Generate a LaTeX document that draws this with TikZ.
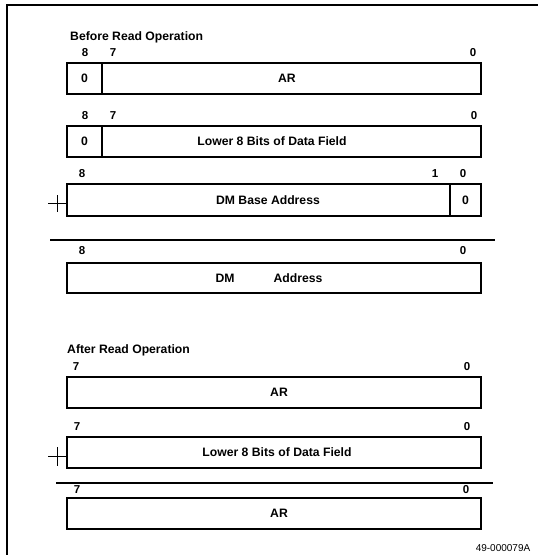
\documentclass[tikz,border=0pt]{standalone}
\usepackage{fontspec}
\setmainfont{Liberation Sans}
\begin{document}
\begin{tikzpicture}[x=1pt,y=-1pt,
  cell/.style={draw, line width=1.2pt, inner sep=0pt, outer sep=0pt, rectangle},
  txt/.style={inner sep=0pt, font=\fontsize{12.2}{14}\selectfont\bfseries},
  bitnum/.style={inner sep=0pt, font=\fontsize{11.5}{13}\selectfont\bfseries},
  rule/.style={line width=1.1pt},
  cross/.style={line width=0.6pt}]
\useasboundingbox (0,0) rectangle (538,555);
% frame
\coordinate (fb) at (7,555);
\coordinate (fc) at (7,5);
\coordinate (fr) at (538,5);
\draw[line width=1.2pt] (fb) -- (fc) -- (fr);

% ---------- Before ----------
\node[txt, anchor=west] (title1) at (70,37) {Before Read Operation};

% box 1
\node[cell, minimum width=35pt, minimum height=31pt] (b1a) at (84.5,78.5) {};
\node[cell, minimum width=379pt, minimum height=31pt] (b1b) at (291.5,78.5) {};
\node[txt] (t1a) at (b1a) {0};
\node[txt] (t1b) at (287,78.5) {AR};
\node[bitnum] (n1a) at (85,53) {8};
\node[bitnum] (n1b) at (113,53) {7};
\node[bitnum] (n1c) at (473,53) {0};

% box 2
\node[cell, minimum width=35pt, minimum height=31pt] (b2a) at (84.5,141.5) {};
\node[cell, minimum width=379pt, minimum height=31pt] (b2b) at (291.5,141.5) {};
\node[txt] (t2a) at (b2a) {0};
\node[txt] (t2b) at (272,141.5) {Lower 8 Bits of Data Field};
\node[bitnum] (n2a) at (85,116) {8};
\node[bitnum] (n2b) at (113,116) {7};
\node[bitnum] (n2c) at (474,116) {0};

% box 3
\node[cell, minimum width=383pt, minimum height=32pt] (b3a) at (258.5,200) {};
\node[cell, minimum width=31pt, minimum height=32pt] (b3b) at (465.5,200) {};
\node[txt] (t3a) at (268,200) {DM Base Address};
\node[txt] (t3b) at (b3b) {0};
\node[bitnum] (n3a) at (82,174) {8};
\node[bitnum] (n3b) at (435,174) {1};
\node[bitnum] (n3c) at (463,174) {0};
\coordinate (p1l) at (48,203);
\coordinate (p1t) at (57,195);
\coordinate (p1b) at (57,212);
\draw[cross] (p1l) -- (b3a.west |- p1l);
\draw[cross] (p1t) -- (p1b);

% separator 1
\coordinate (s1l) at (50,240);
\coordinate (s1r) at (495,240);
\draw[rule] (s1l) -- (s1r);

% box 4
\node[cell, minimum width=414pt, minimum height=30pt] (b4) at (274,278) {};
\node[txt] (t4a) at (225,278) {DM};
\node[txt] (t4b) at (298,278) {Address};
\node[bitnum] (n4a) at (82,251) {8};
\node[bitnum] (n4c) at (463,251) {0};

% ---------- After ----------
\node[txt, anchor=west] (title2) at (67,350) {After Read Operation};

% box 5
\node[cell, minimum width=414pt, minimum height=31pt] (b5) at (274,392.5) {};
\node[txt] (t5) at (279,392.5) {AR};
\node[bitnum] (n5a) at (76,367) {7};
\node[bitnum] (n5c) at (467,367) {0};

% box 6
\node[cell, minimum width=414pt, minimum height=31pt] (b6) at (274,452.5) {};
\node[txt] (t6) at (277,452.5) {Lower 8 Bits of Data Field};
\node[bitnum] (n6a) at (77,427) {7};
\node[bitnum] (n6c) at (467,427) {0};
\coordinate (p2l) at (48,456);
\coordinate (p2t) at (57,447);
\coordinate (p2b) at (57,466);
\draw[cross] (p2l) -- (b6.west |- p2l);
\draw[cross] (p2t) -- (p2b);

% separator 2
\coordinate (s2l) at (56,483);
\coordinate (s2r) at (493,483);
\draw[rule] (s2l) -- (s2r);

% box 7
\node[cell, minimum width=414pt, minimum height=31pt] (b7) at (274,513.5) {};
\node[txt] (t7) at (279,513.5) {AR};
\node[bitnum] (n7a) at (77,490) {7};
\node[bitnum] (n7c) at (466,490) {0};

% footer
\node[inner sep=0pt, font=\fontsize{10}{12}\selectfont] (foot) at (503,548) {49-000079A};
\end{tikzpicture}
\end{document}
